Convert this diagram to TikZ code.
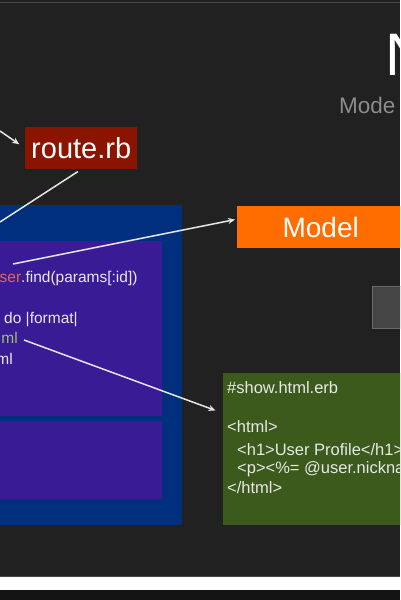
\documentclass[tikz,border=0pt]{standalone}
\usepackage{fontspec}
\setmainfont{Liberation Sans}
\usetikzlibrary{arrows.meta}

\definecolor{slidebg}{HTML}{212121}
\definecolor{rulegray}{HTML}{4A4A4A}
\definecolor{footdark}{HTML}{141414}
\definecolor{routered}{HTML}{8A1400}
\definecolor{modelorange}{HTML}{FF6C00}
\definecolor{ctrlblue}{HTML}{002F7E}
\definecolor{ctrlpurple}{HTML}{3A1B96}
\definecolor{viewgreen}{HTML}{3C5A1C}
\definecolor{sidegray}{HTML}{454545}
\definecolor{subgray}{HTML}{8C8C8C}
\definecolor{codefg}{HTML}{E8E8E8}
\definecolor{classred}{HTML}{E0665E}
\definecolor{fmtgreen}{HTML}{95C276}
\definecolor{linkwhite}{HTML}{E6E6E6}

\tikzset{
  panel/.style={inner sep=0pt, anchor=north west, draw=none},
  codeline/.style={inner sep=0pt, anchor=base west, text=codefg,
    font=\fontsize{15.5}{18}\selectfont},
  viewline/.style={inner sep=0pt, anchor=base west, text=codefg,
    font=\fontsize{16.5}{19}\selectfont},
  link/.style={draw=linkwhite, line width=1.5pt},
  linkarrow/.style={link, -{Stealth[length=7pt,width=6pt]}},
}

\begin{document}
\begin{tikzpicture}[x=1pt,y=-1pt]
\useasboundingbox (0,0) rectangle (400,600);
\clip (0,0) rectangle (400,600);

% slide background, top rule and footer strip
\fill[slidebg] (0,0) rectangle (400,600);
\draw[rulegray, line width=1.2pt] (0,2.5) -- (400,2.5);
\draw[rulegray, line width=1.2pt] (0,576.5) -- (400,576.5);
\fill[white] (0,577) rectangle (400,590);
\fill[footdark] (0,590) rectangle (400,600);

% title
\node[inner sep=0pt, anchor=base west, text=white,
      font=\fontsize{60}{60}\selectfont] (title) at (385,75) {N};
\node[inner sep=0pt, anchor=base west, text=subgray,
      font=\fontsize{22.5}{24}\selectfont] (subtitle) at (339,113) {Mode};

% router
\node[panel, fill=routered, minimum width=112pt, minimum height=42pt,
      text=white, font=\fontsize{29}{32}\selectfont] (route) at (25,127) {route.rb};

% controller
\node[panel, fill=ctrlblue, minimum width=192pt, minimum height=320pt] (ctrl) at (-10,205) {};
\node[panel, fill=ctrlpurple, minimum width=172pt, minimum height=175pt] (action) at (-10,241) {};
\node[panel, fill=ctrlpurple, minimum width=172pt, minimum height=78pt] (ctrlrest) at (-10,421) {};

\node[codeline] (c1) at (-0.5,282) {\textcolor{classred}{ser}.find(params[:id])};
\node[codeline] (c3) at (4,323) {do |format|};
\node[codeline, anchor=base east, text=fmtgreen] (c4) at (18,343) {ml};
\node[codeline, anchor=base east] (c5) at (13,364) {ml};

% model
\node[panel, fill=modelorange, minimum width=167pt, minimum height=42pt,
      text=white, font=\fontsize{28}{30}\selectfont] (model) at (237,206) {Model};

% partly visible side panel
\node[panel, fill=sidegray, draw=sidegray!80!white, line width=0.6pt,
      minimum width=40pt, minimum height=42pt] (sidebox) at (372,286) {};

% view template
\node[panel, fill=viewgreen, minimum width=190pt, minimum height=152pt] (view) at (223,373) {};
\node[viewline] (v1) at (227,393) {\#show.html.erb};
\node[viewline] (v2) at (227,432) {<html>};
\node[viewline] (v3) at (237,455) {<h1>User Profile</h1>};
\node[viewline] (v4) at (237,473) {<p><\%= @user.nickna};
\node[viewline] (v5) at (227,493) {</html>};

% connectors
\coordinate (request) at (0,131);
\coordinate (dispatch) at (0,222);
\coordinate (findcall) at (13,264);
\coordinate (render) at (24,340);

\draw[linkarrow, shorten >=7pt] (request) -- (route.west);
\draw[link, shorten <=4pt] (route.south) -- (dispatch);
\draw[linkarrow, shorten >=2pt] (findcall) -- ([yshift=8pt]model.west);
\draw[linkarrow, shorten >=8pt] (render) -- ([yshift=36pt]view.west);
\end{tikzpicture}
\end{document}
